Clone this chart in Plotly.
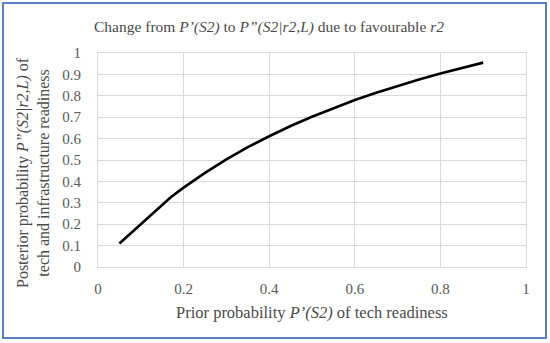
import plotly.graph_objects as go

prior = [0.05, 0.17, 0.2, 0.25, 0.3, 0.35, 0.4, 0.45, 0.5, 0.55, 0.6, 0.65, 0.7, 0.75, 0.8, 0.85, 0.9]
posterior = [0.11, 0.326, 0.371, 0.44, 0.503, 0.56, 0.611, 0.659, 0.702, 0.742, 0.78, 0.814, 0.846, 0.876, 0.904, 0.93, 0.955]
x_ticks = [0, 0.2, 0.4, 0.6, 0.8, 1]
x_tick_text = ["0", "0.2", "0.4", "0.6", "0.8", "1"]
y_ticks = [0, 0.1, 0.2, 0.3, 0.4, 0.5, 0.6, 0.7, 0.8, 0.9, 1]
y_tick_text = ["0", "0.1", "0.2", "0.3", "0.4", "0.5", "0.6", "0.7", "0.8", "0.9", "1"]

W, H = 550, 343
L, R, T, B = 98, 24, 53, 76
FONT = "Liberation Serif"

def px(xp):
    return (xp - L) / (W - L - R)

def py(yp):
    return (H - B - yp) / (H - T - B)

fig = go.Figure()
fig.add_trace(go.Scatter(x=prior, y=posterior, mode="lines",
                         line=dict(color="black", width=2.6), showlegend=False))

fig.update_layout(
    width=W, height=H,
    margin=dict(l=L, r=R, t=T, b=B),
    paper_bgcolor="white", plot_bgcolor="white",
    font=dict(family=FONT, color="#595959", size=15),
    xaxis=dict(range=[0, 1], tickvals=x_ticks, ticktext=x_tick_text,
               showgrid=True, gridcolor="#d9d9d9", gridwidth=1,
               showline=True, linecolor="#d9d9d9", mirror=True,
               zeroline=False, ticks="outside", ticklen=8, tickcolor="rgba(0,0,0,0)",
               tickfont=dict(family=FONT, size=15, color="#595959")),
    yaxis=dict(range=[0, 1], tickvals=y_ticks, ticktext=y_tick_text,
               showgrid=True, gridcolor="#d9d9d9", gridwidth=1,
               showline=True, linecolor="#d9d9d9", mirror=True,
               zeroline=False, ticks="outside", ticklen=13, tickcolor="rgba(0,0,0,0)",
               tickfont=dict(family=FONT, size=15, color="#595959")),
)

fig.add_annotation(text="Change from <i>P’(S2)</i> to <i>P”(S2|r2,L)</i> due to favourable <i>r2</i>",
                   xref="paper", yref="paper", x=px(269), y=py(27), showarrow=False,
                   xanchor="center", yanchor="middle",
                   font=dict(family=FONT, size=15.5, color="#4a4a4a"))
fig.add_annotation(text="Prior probability <i>P’(S2)</i> of tech readiness",
                   xref="paper", yref="paper", x=px(312), y=py(312), showarrow=False,
                   xanchor="center", yanchor="middle",
                   font=dict(family=FONT, size=16.5, color="#4a4a4a"))
fig.add_annotation(text="Posterior probability <i>P”(S2|r2,L)</i> of<br>tech and infrastructure readiness",
                   xref="paper", yref="paper", x=px(33), y=py(173), showarrow=False,
                   xanchor="center", yanchor="middle", textangle=-90,
                   font=dict(family=FONT, size=16, color="#4a4a4a"))

fig.add_shape(type="rect", xref="paper", yref="paper",
              x0=px(3), x1=px(546), y0=py(338), y1=py(3),
              line=dict(color="#5b7fc4", width=2), fillcolor="rgba(0,0,0,0)", layer="below")

fig.write_html("out.html", config={"displayModeBar": False},
               post_script="document.body.style.margin='0';document.body.style.padding='0';")
